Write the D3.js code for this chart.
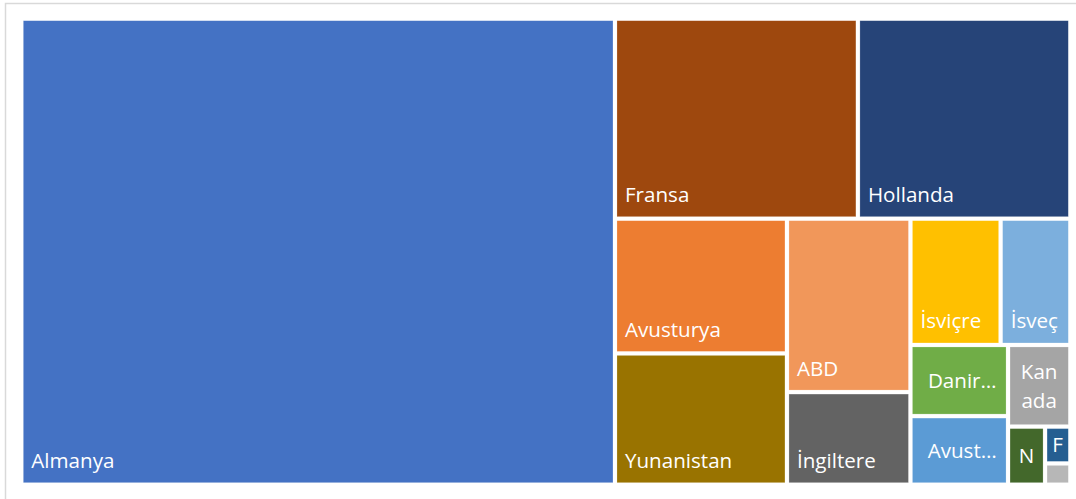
<!DOCTYPE html>
<html>
<head>
<meta charset="utf-8">
<script src="https://cdn.jsdelivr.net/npm/d3@7"></script>
<style>
    body { margin: 0; background: #fff; }
    svg { display: block; font-family: "Open Sans", sans-serif; }
    .cell-label { fill: #fff; font-size: 20.6px; }
</style>
</head>
<body>
<svg id="treemap"></svg>
<script>
// countries, values (share of total)
const countries = ["Almanya", "Fransa", "Hollanda", "Avusturya", "Yunanistan", "ABD",
    "İngiltere", "İsviçre", "İsveç", "Danimarka", "Avustralya", "Kanada", "Norveç", "Finlandiya", "Diğer"];
const values = [56.60, 9.94, 8.69, 4.74, 4.62, 4.38, 2.34, 2.33, 1.80, 1.42, 1.37, 1.04, 0.44, 0.19, 0.11];
// what the chart actually shows in each cell (truncated / wrapped)
const shownLabels = [["Almanya"], ["Fransa"], ["Hollanda"], ["Avusturya"], ["Yunanistan"], ["ABD"],
    ["İngiltere"], ["İsviçre"], ["İsveç"], ["Danir…"], ["Avust…"], ["Kan", "ada"], ["N"], ["F"], []];
const colors = ["#4472C4", "#9E480E", "#264478", "#ED7D31", "#997300", "#F1975A",
    "#636363", "#FFC000", "#7CAFDD", "#70AD47", "#5B9BD5", "#A5A5A5", "#43682B", "#255E91", "#B7B7B7"];

const total_w = 1076, total_h = 499;
const plot = { x: 23.3, y: 20.7, w: 1045, h: 462 };

const svg = d3.select("#treemap")
    .attr("width", total_w)
    .attr("height", total_h);

// chart frame
svg.append("rect")
    .attr("x", 5.5).attr("y", 3.5)
    .attr("width", 1090).attr("height", 520)
    .attr("fill", "none")
    .attr("stroke", "#D9D9D9")
    .attr("stroke-width", 1.5);

const data = countries.map((c, i) => ({ name: c, value: values[i], label: shownLabels[i], color: colors[i] }));

const root = d3.hierarchy({ children: data })
    .sum(d => d.value || 0)
    .sort((a, b) => b.value - a.value);

d3.treemap()
    .tile(d3.treemapSquarify.ratio(1))
    .size([plot.w, plot.h])
    .paddingInner(4)
    .paddingOuter(0)(root);

const g = svg.append("g").attr("transform", `translate(${plot.x},${plot.y})`);

const cells = g.selectAll("g.cell")
    .data(root.leaves())
    .join("g")
    .attr("class", "cell")
    .attr("transform", d => `translate(${d.x0},${d.y0})`);

cells.append("rect")
    .attr("width", d => d.x1 - d.x0)
    .attr("height", d => d.y1 - d.y0)
    .attr("fill", d => d.data.color)
    .attr("stroke", "rgba(255,255,255,0.35)")
    .attr("stroke-width", 0.6);

// labels: bottom-left in big cells, centred in small ones
const lineGap = 29;
cells.each(function (d) {
    const lines = d.data.label;
    if (!lines.length) return;
    const w = d.x1 - d.x0, h = d.y1 - d.y0;
    const small = h < 85;
    const text = d3.select(this).append("text")
        .attr("class", "cell-label");
    if (small) {
        const capH = 14.6;
        const blockH = capH + (lines.length - 1) * lineGap;
        const firstBase = h / 2 - blockH / 2 + capH;
        // truncated labels sit a bit right of centre
        const shift = lines[0].endsWith("…") ? 3 : 0;
        text.attr("text-anchor", "middle");
        lines.forEach((l, i) => {
            text.append("tspan")
                .attr("x", w / 2 + shift)
                .attr("y", firstBase + i * lineGap)
                .text(l);
        });
    } else {
        text.attr("x", 8)
            .attr("y", h - 14.5)
            .text(lines[0]);
    }
});
</script>
</body>
</html>
